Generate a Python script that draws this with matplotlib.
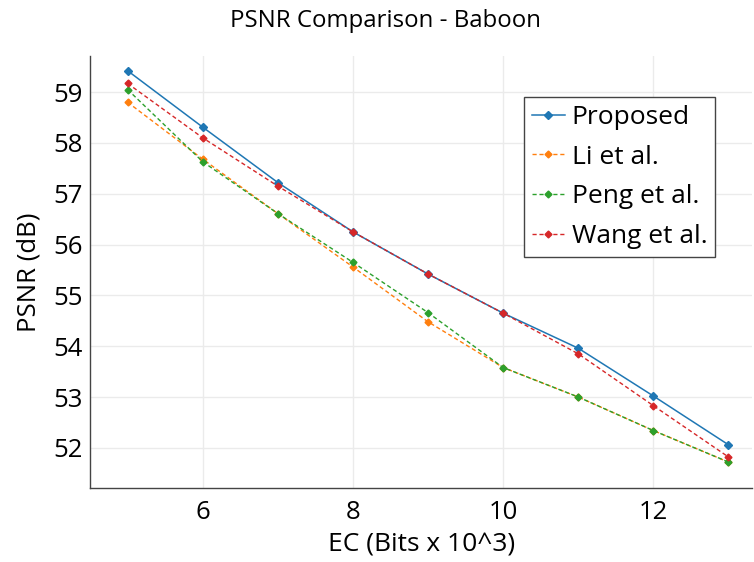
import numpy as np
import matplotlib
matplotlib.use('Agg')
import matplotlib.pyplot as plt

plt.rcParams['font.family'] = ['Open Sans', 'DejaVu Sans']

ec = [5, 6, 7, 8, 9, 10, 11, 12, 13]
proposed = [59.42, 58.31, 57.22, 56.25, 55.42, 54.65, 53.96, 53.02, 52.06]
li = [58.80, 57.68, 56.61, 55.56, 54.48, 53.58, 53.00, 52.34, 51.72]
peng = [59.05, 57.63, 56.61, 55.65, 54.66, 53.58, 53.00, 52.34, 51.72]
wang = [59.17, 58.10, 57.15, 56.25, 55.42, 54.65, 53.85, 52.83, 51.82]

fig = plt.figure(figsize=(7.54, 5.62), dpi=100)
ax = fig.add_axes([0.1194, 0.1317, 0.8786, 0.7687])

ax.plot(ec, proposed, color='#1f77b4', lw=1.1, marker='D', ms=4, label='Proposed')
ax.plot(ec, li, color='#ff7f0e', lw=1, ls=(0, (3, 2)), marker='D', ms=3.5, label='Li et al.')
ax.plot(ec, peng, color='#2ca02c', lw=1, ls=(0, (3, 2)), marker='D', ms=3.5, label='Peng et al.')
ax.plot(ec, wang, color='#d62728', lw=1, ls=(0, (3, 2)), marker='D', ms=3.5, label='Wang et al.')

ax.set_xlim(4.5, 13.32)
ax.set_ylim(51.21, 59.71)
ax.set_xticks([6, 8, 10, 12])
ax.set_yticks([52, 53, 54, 55, 56, 57, 58, 59])
ax.grid(True, color='#ebebeb', lw=1)
ax.set_axisbelow(True)
for s in ['top', 'right']:
    ax.spines[s].set_visible(False)
for s in ['left', 'bottom']:
    ax.spines[s].set_color('#444444')
    ax.spines[s].set_linewidth(1)
ax.tick_params(length=0, labelsize=18.5)
ax.tick_params(axis='x', pad=9)
ax.tick_params(axis='y', pad=5)

fig.text(385 / 754, 1 - 26.7 / 562, 'PSNR Comparison - Baboon', fontsize=17.3,
         ha='center', va='baseline')
ax.set_xlabel('EC (Bits x 10^3)', fontsize=19, labelpad=5)
ax.set_ylabel('PSNR (dB)', fontsize=18.5, labelpad=9)

leg = ax.legend(loc='upper left', bbox_to_anchor=(524 / 754, 1 - 97 / 562),
                bbox_transform=fig.transFigure, fontsize=19, fancybox=False,
                framealpha=1, edgecolor='#444444', handlelength=1.25,
                borderpad=0.3, labelspacing=0.56, handletextpad=0.25,
                borderaxespad=0)
leg.get_frame().set_linewidth(1)

fig.savefig('out.png', dpi=100)
